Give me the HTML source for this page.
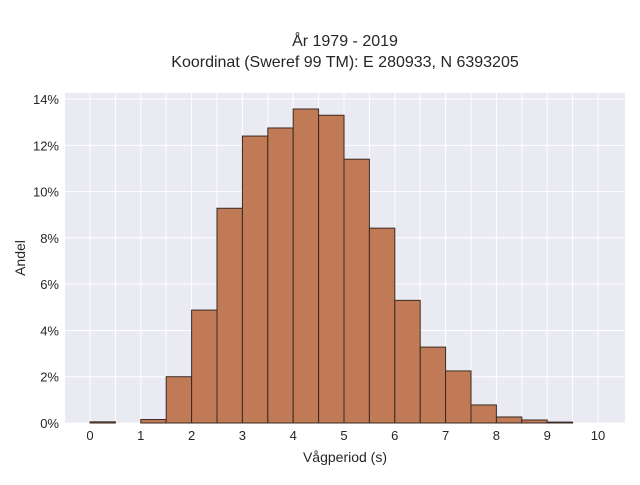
<!DOCTYPE html>
<html><head><meta charset="utf-8"><style>
body{margin:0;background:#fff;font-family:"Liberation Sans",sans-serif}
svg text{fill:#262626}
</style></head><body>
<svg width="640" height="480" xmlns="http://www.w3.org/2000/svg">
<text x="345" y="46" text-anchor="middle" font-size="16">År 1979 - 2019</text>
<text x="345" y="67" text-anchor="middle" font-size="16">Koordinat (Sweref 99 TM): E 280933, N 6393205</text>
<rect x="65" y="93" width="560" height="330" fill="#eaeaf2"/>
<g id="grid"></g><g id="bars"></g><g id="ticks"></g>
<text x="345" y="462" text-anchor="middle" font-size="14">Vågperiod (s)</text>
<text transform="translate(25,258) rotate(-90)" text-anchor="middle" font-size="14">Andel</text>
</svg>
<script>
const binStarts=[0,0.5,1,1.5,2,2.5,3,3.5,4,4.5,5,5.5,6,6.5,7,7.5,8,8.5,9,9.5];
const shares=[0.05,0,0.15,2.0,4.88,9.28,12.4,12.75,13.57,13.3,11.4,8.42,5.3,3.28,2.25,0.78,0.26,0.13,0.04,0];
const xTicks=[0,1,2,3,4,5,6,7,8,9,10];
const yTicks=[0,2,4,6,8,10,12,14];
const binWidth=0.5;
const NS="http://www.w3.org/2000/svg";
const X=v=>90+v*50.8, Y=v=>423-v*23.14;
function mk(t,a,p){const e=document.createElementNS(NS,t);for(const k in a)e.setAttribute(k,a[k]);p.appendChild(e);return e;}
const g=document.getElementById('grid'),b=document.getElementById('bars'),tk=document.getElementById('ticks');
for(let v=0;v<=10;v+=0.5){const l=mk('line',{x1:X(v),x2:X(v),y1:93,y2:423,stroke:'#fff','stroke-width':1},g);

}
yTicks.forEach(v=>{const l=mk('line',{x1:65,x2:625,y1:Y(v),y2:Y(v),stroke:'#fff','stroke-width':1},g);


const t=mk('text',{x:59,y:Y(v)+5,'text-anchor':'end','font-size':13},tk);t.textContent=v+'%';

});
xTicks.forEach(v=>{const t=mk('text',{x:X(v),y:440,'text-anchor':'middle','font-size':13},tk);t.textContent=v;

});
binStarts.forEach((s,i)=>{if(shares[i]<=0)return;const r=mk('rect',{x:X(s),y:Y(shares[i]),width:X(s+binWidth)-X(s),height:Y(0)-Y(shares[i]),fill:'#c07b56',stroke:'#3a2a22','stroke-width':1},b);

});
</script>
</body></html>
